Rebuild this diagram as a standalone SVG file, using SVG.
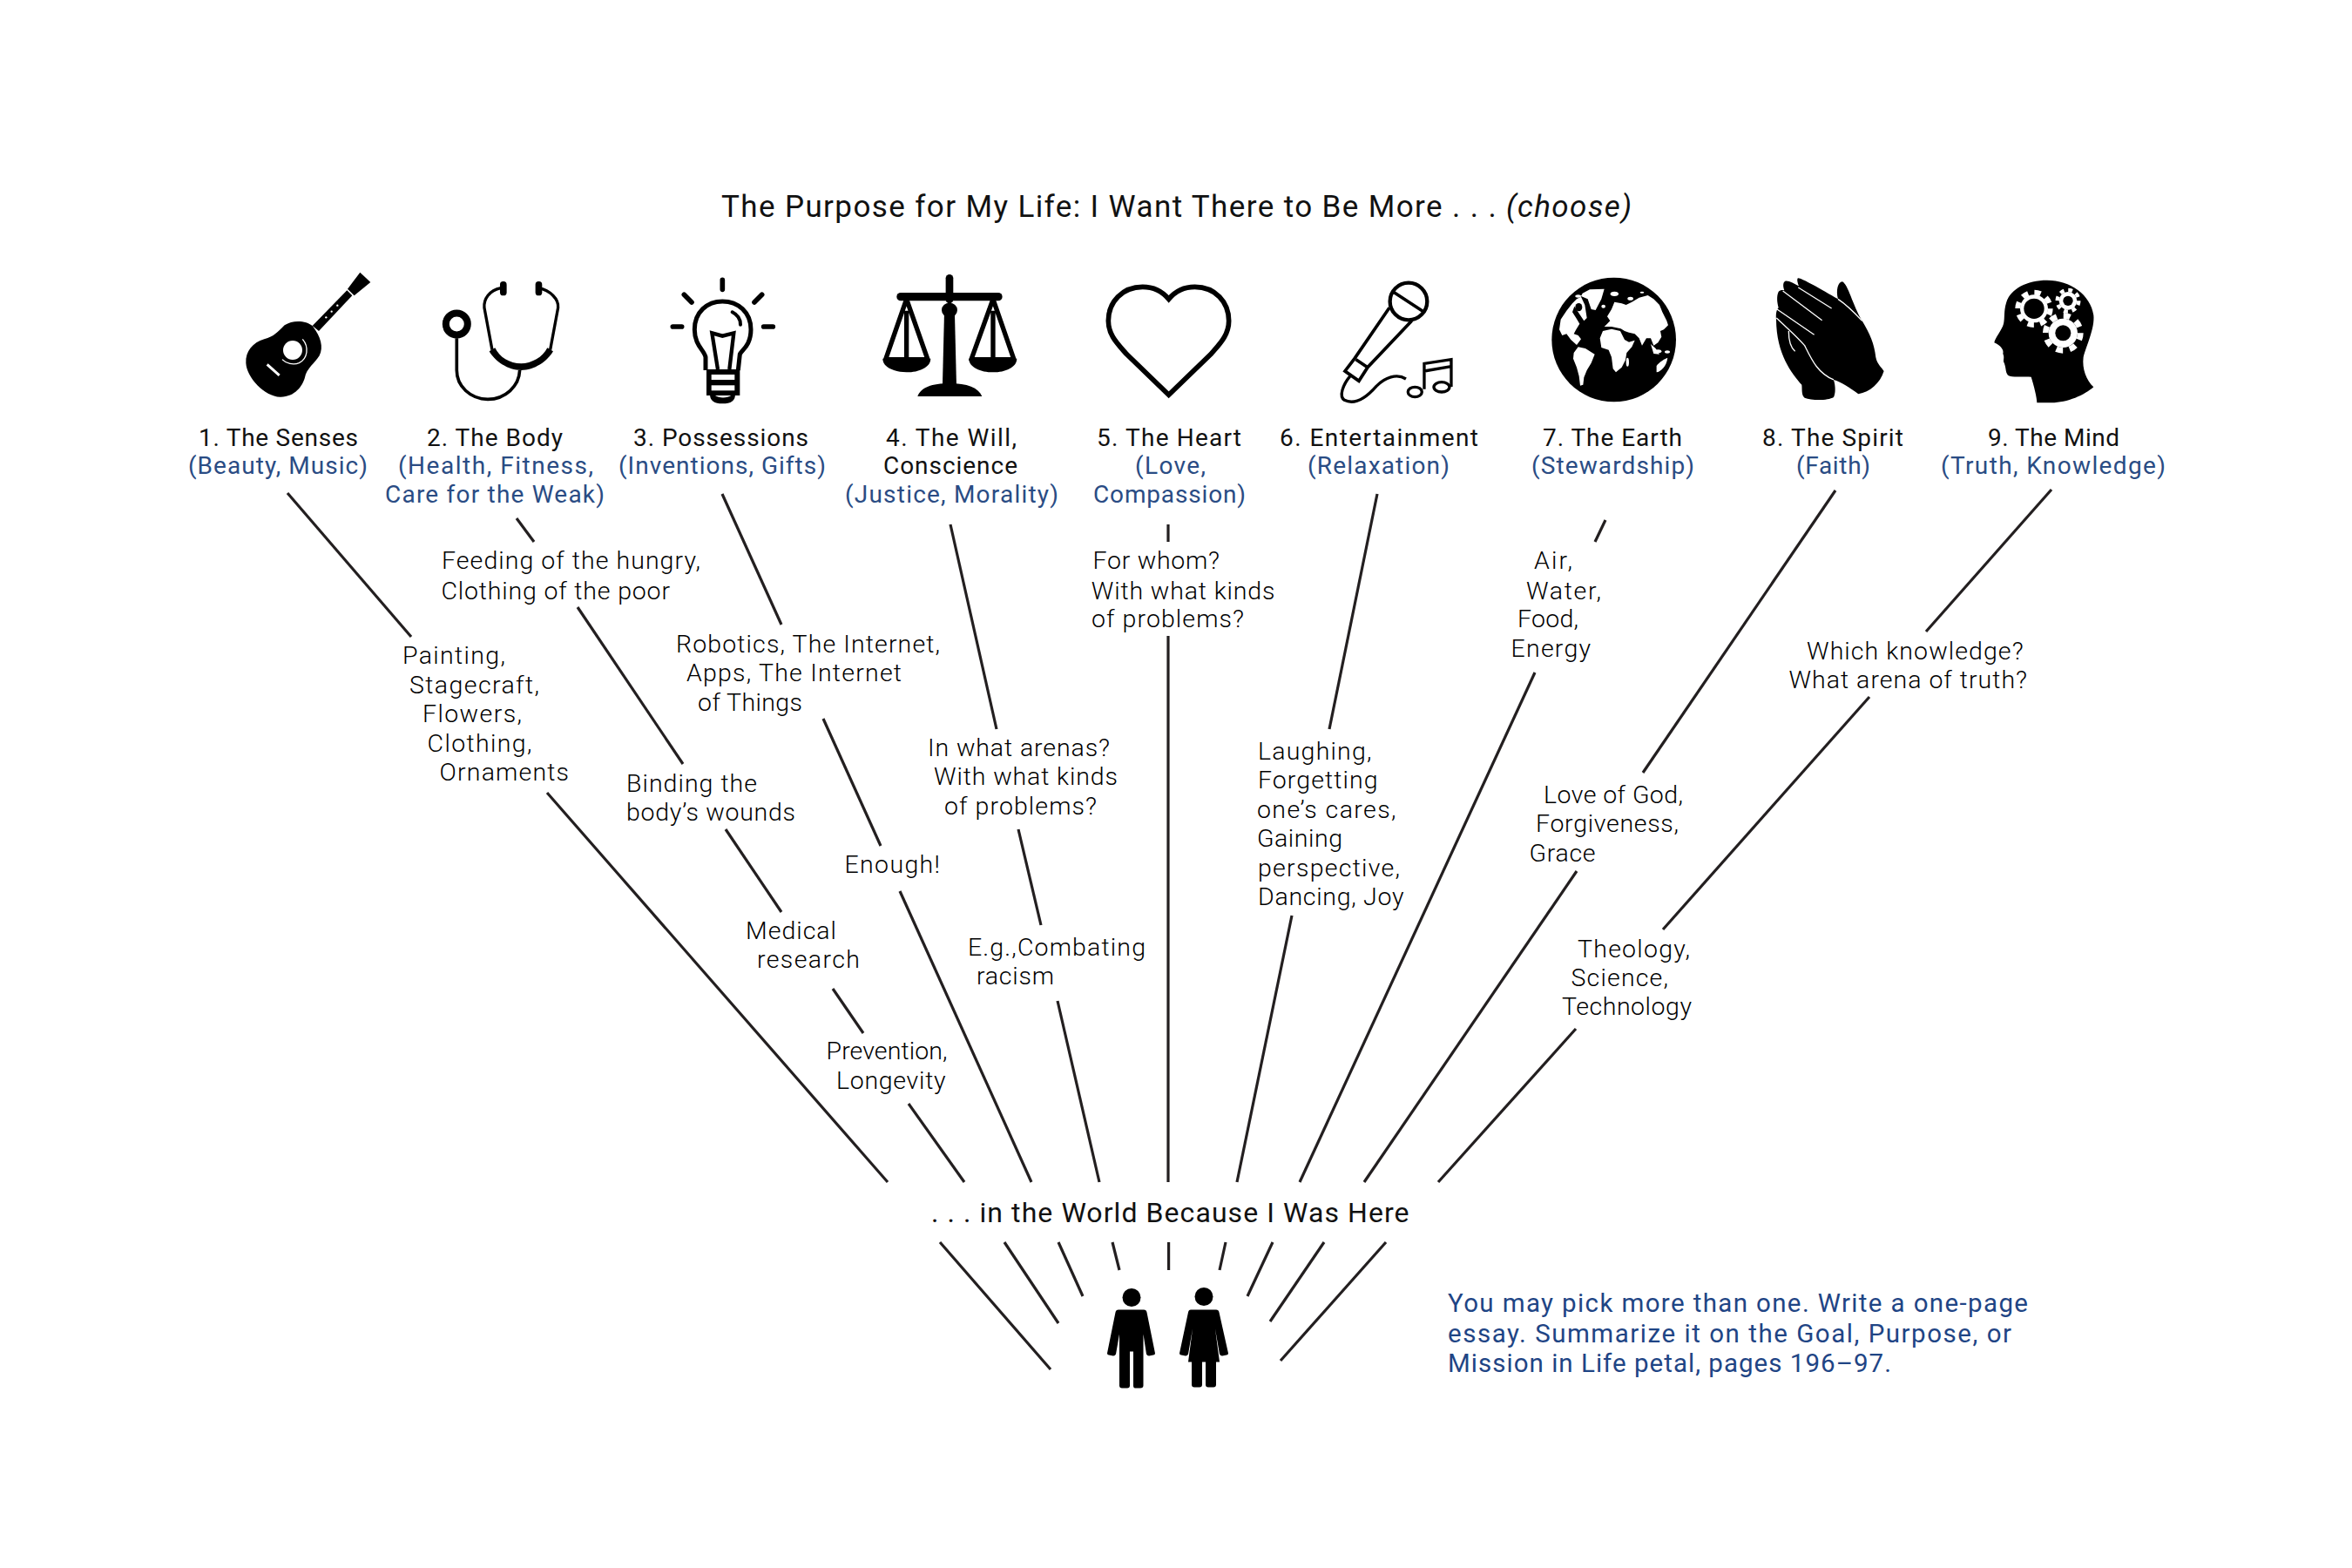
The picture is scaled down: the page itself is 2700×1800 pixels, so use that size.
<svg xmlns="http://www.w3.org/2000/svg" width="2700" height="1800" viewBox="0 0 2700 1800">
<style>
text{font-family:"Roboto","Liberation Sans",sans-serif;fill:#231f20}
.h{font-size:28px;font-weight:400;fill:#111}
.b{font-size:28px;font-weight:400;fill:#2a4c84}
.m{font-size:28.5px;font-weight:300;fill:#000}
.t{font-size:35px;font-weight:400;fill:#111}
.w{font-size:32px;font-weight:400;fill:#111}
.n{font-size:29.5px;font-weight:400;fill:#1f4585}
#connectors line{stroke:#231f20;stroke-width:3.2;fill:none}
.s{fill:none;stroke:#000}
</style>
<rect width="2700" height="1800" fill="#fff"/>
<text id="title" class="t" x="828" y="248.500" textLength="1045">The Purpose for My Life: I Want There to Be More . . . <tspan font-style="italic">(choose)</tspan></text>

<g id="connectors">
<line x1="330" y1="566" x2="472" y2="731"/><line x1="628" y1="910" x2="1019" y2="1357"/>
<line x1="593" y1="595" x2="613" y2="622"/><line x1="663" y1="697" x2="784" y2="877"/><line x1="833" y1="952" x2="897" y2="1047"/><line x1="956" y1="1135" x2="991" y2="1186"/><line x1="1043" y1="1267" x2="1107" y2="1357"/>
<line x1="829" y1="567" x2="897" y2="717"/><line x1="945" y1="825" x2="1011" y2="971"/><line x1="1033" y1="1023" x2="1184" y2="1357"/>
<line x1="1091" y1="602" x2="1144" y2="837"/><line x1="1169" y1="952" x2="1195" y2="1062"/><line x1="1214" y1="1149" x2="1262" y2="1357"/>
<line x1="1341" y1="602" x2="1341" y2="622"/><line x1="1341" y1="730" x2="1341" y2="1357"/>
<line x1="1581" y1="567" x2="1526" y2="837"/><line x1="1483" y1="1051" x2="1420" y2="1357"/>
<line x1="1843" y1="597" x2="1831" y2="622"/><line x1="1762" y1="772" x2="1492" y2="1357"/>
<line x1="2107" y1="563" x2="1886" y2="887"/><line x1="1810" y1="1000" x2="1566" y2="1357"/>
<line x1="2355" y1="562" x2="2211" y2="725"/><line x1="2146" y1="800" x2="1909" y2="1067"/><line x1="1809" y1="1181" x2="1651" y2="1357"/>
<line x1="1079" y1="1426" x2="1206" y2="1572"/><line x1="1153" y1="1426" x2="1215" y2="1519"/><line x1="1215" y1="1426" x2="1243" y2="1488"/><line x1="1277" y1="1426" x2="1285" y2="1458"/><line x1="1341.6" y1="1426" x2="1341.6" y2="1458"/><line x1="1407" y1="1426" x2="1400" y2="1458"/><line x1="1461" y1="1426" x2="1432" y2="1488"/><line x1="1520" y1="1426" x2="1458" y2="1517"/><line x1="1591" y1="1426" x2="1470" y2="1562"/>
</g>

<g id="node-senses">
<g transform="translate(260,300) scale(.3333)">
<path d="M296,222C275,205 230,200 200,220C175,245 165,258 130,268C90,280 65,310 67,350C70,400 130,465 185,467C235,468 262,430 270,400C275,370 305,350 320,325C335,295 325,260 296,222Z"/>
<polygon points="296,222 415,100 433,118 318,240"/>
<polygon points="417,95 460,38 496,72 440,118"/>
<circle cx="228" cy="306" r="33" fill="#fff"/>
<path d="M262,268C285,295 280,335 250,350C230,358 205,352 192,338" fill="none" stroke="#fff" stroke-width="4"/>
<line x1="140" y1="355" x2="182" y2="393" stroke="#fff" stroke-width="9"/>
<circle cx="343" cy="193" r="3.5" fill="#fff"/><circle cx="362" cy="173" r="3.5" fill="#fff"/><circle cx="382" cy="152" r="3.5" fill="#fff"/>
</g>
<text class="h" x="228" y="512" textLength="183">1. The Senses</text>
<text class="b" x="216" y="544" textLength="206">(Beauty, Music)</text>
</g>

<g id="node-body">
<g transform="translate(260,300) scale(.3333)">
<circle class="s" cx="793" cy="216" r="37.5" stroke-width="24"/>
<path class="s" stroke-width="11" d="M793,265V375C793,430 840,475 900,475C960,475 1008,430 1010,375"/>
<path class="s" stroke-width="10" d="M945,92C905,100 885,130 888,160L915,305M1075,92C1115,100 1145,130 1142,160L1115,305"/>
<path d="M905,310C925,345 970,375 1015,375C1060,375 1105,345 1125,310L1105,298C1090,330 1050,352 1015,352C975,352 940,330 925,298Z"/>
<rect x="942" y="69" width="23" height="49" rx="11"/><rect x="1064" y="69" width="23" height="49" rx="11"/>
</g>
<text class="h" x="490" y="512" textLength="156">2. The Body</text>
<text class="b" x="457" y="544" textLength="224">(Health, Fitness,</text>
<text class="b" x="442" y="577" textLength="252">Care for the Weak)</text>
</g>

<g id="node-possessions">
<g transform="translate(760,300) scale(.3333)">
<g class="s" stroke-width="17" stroke-linecap="round"><path d="M208,64V97M76,115L102,141M344,115L318,141M37,225H68M350,225H382"/></g>
<path class="s" stroke-width="15" d="M150,375L150,330C145,305 112,290 112,235C112,175 155,138 208,138C262,138 306,175 306,235C306,290 275,305 268,320L262,375"/>
<rect x="153" y="372" width="115" height="90"/><rect x="170" y="390" width="80" height="18" fill="#fff"/><rect x="170" y="427" width="80" height="18" fill="#fff"/>
<path d="M165,458C165,480 180,490 208,490C238,490 252,480 252,458Z"/><path d="M183,462C195,472 225,472 238,462Z" fill="#fff"/>
<path class="s" stroke-width="12" stroke-linecap="round" d="M242,175C262,185 270,200 270,218"/>
<path class="s" stroke-width="13" d="M192,372L172,247L208,257L247,247L232,372"/>
</g>
<text class="h" x="727" y="512" textLength="201">3. Possessions</text>
<text class="b" x="710" y="544" textLength="238">(Inventions, Gifts)</text>
</g>

<g id="node-will">
<g transform="translate(760,300) scale(.3333)">
<rect x="977" y="45" width="26" height="100" rx="13"/>
<ellipse cx="990" cy="168" rx="27" ry="25"/>
<polygon points="972,180 1008,180 1014,425 966,425"/>
<path d="M880,465C890,435 930,420 990,420C1050,420 1090,435 1102,465Z"/>
<rect x="808" y="108" width="364" height="28" rx="14"/>
<path class="s" stroke-width="16" stroke-linejoin="round" d="M842,130L770,338H915ZM842,170V338M1140,130L1065,338H1212ZM1140,170V338"/>
<path d="M760,335H925C925,365 885,382 842,382C800,382 760,365 760,335Z"/>
<path d="M1057,335H1222C1222,365 1182,382 1140,382C1097,382 1057,365 1057,335Z"/>
</g>
<text class="h" x="1017" y="512" textLength="150">4. The Will,</text>
<text class="h" x="1014" y="544" textLength="154">Conscience</text>
<text class="b" x="970" y="577" textLength="245">(Justice, Morality)</text>
</g>

<g id="node-heart">
<g transform="translate(1260,300) scale(.3333)">
<path class="s" stroke-width="17" d="M245,130C220,100 190,88 155,88C85,88 37,140 37,205C37,255 70,285 100,320L245,460L390,320C420,285 452,255 452,205C452,140 405,88 335,88C300,88 270,100 245,130Z"/>
</g>
<text class="h" x="1259" y="512" textLength="166">5. The Heart</text>
<text class="b" x="1303" y="544" textLength="81">(Love,</text>
<text class="b" x="1255" y="577" textLength="175">Compassion)</text>
</g>

<g id="node-entertainment">
<g transform="translate(1260,300) scale(.3333)" class="s">
<circle cx="1071" cy="138" r="64" stroke-width="13" fill="none"/>
<path stroke-width="11" d="M1018,105L1120,172M1005,160L885,335L852,378L900,412L930,365L1082,205M890,338L930,365"/>
<path stroke-width="10" d="M870,395C845,425 830,465 850,478C885,495 925,470 960,430C990,400 1030,385 1062,405"/>
<path stroke-width="10" d="M1125,440V352L1218,338V432M1125,378L1218,362"/>
<ellipse cx="1093" cy="450" rx="24" ry="17" stroke-width="10"/><ellipse cx="1185" cy="433" rx="27" ry="17" stroke-width="10"/>
</g>
<text class="h" x="1469" y="512" textLength="228">6. Entertainment</text>
<text class="b" x="1501" y="544" textLength="163">(Relaxation)</text>
</g>

<g id="node-earth">
<g transform="translate(1770,300) scale(.3333)">
<circle cx="248" cy="270" r="214"/>
<g fill="#fff">
<polygon points="140,110 165,97 215,95 205,130 185,168 170,165 158,130 135,120"/>
<polygon points="60,235 65,200 85,170 105,145 120,130 135,122 148,150 155,195 145,205 125,175 112,155 105,175 118,195 130,215 118,235 110,250 125,255 135,268 120,288 100,270 85,250 70,255"/>
<polygon points="110,315 125,295 150,300 182,320 170,350 155,375 145,400 142,425 132,428 128,395 120,365 108,335"/>
<polygon points="200,265 210,240 240,233 270,240 285,270 300,278 320,272 310,295 292,315 288,340 275,365 255,382 245,370 240,330 230,305 205,297"/>
<polygon points="235,205 225,190 240,165 250,140 275,145 290,150 310,140 335,125 365,117 385,130 405,150 415,175 430,205 435,220 420,235 408,240 412,260 400,280 385,290 375,265 360,265 345,290 335,265 320,250 300,245 285,240 272,232 240,225 215,225 225,215"/>
<polygon points="375,285 392,300 405,320 385,318"/>
<path d="M395,360C405,345 425,335 433,332C430,360 410,380 395,382Z"/>
<ellipse cx="295" cy="347" rx="5" ry="15"/><ellipse cx="250" cy="112" rx="14" ry="8"/><ellipse cx="212" cy="155" rx="7" ry="6"/><ellipse cx="305" cy="128" rx="10" ry="6"/><ellipse cx="400" cy="310" rx="12" ry="6"/><ellipse cx="432" cy="312" rx="9" ry="5"/><ellipse cx="345" cy="107" rx="7" ry="3"/><ellipse cx="125" cy="120" rx="10" ry="5"/>
</g>
<ellipse cx="127" cy="158" rx="12" ry="14"/>
</g>
<text class="h" x="1771" y="512" textLength="160">7. The Earth</text>
<text class="b" x="1758" y="544" textLength="187">(Stewardship)</text>
</g>

<g id="node-spirit">
<g transform="translate(1770,300) scale(.3333)">
<path d="M882,58C890,55 960,95 1020,130C1012,100 1020,70 1035,70C1055,80 1070,150 1103,205C1130,250 1145,285 1150,330C1155,355 1170,365 1178,378C1165,420 1130,450 1090,457C1060,435 1030,415 1005,408C1012,430 1012,455 1005,468C985,480 930,480 905,470C893,460 897,440 895,425C860,385 808,320 807,200C805,175 810,165 815,160C810,140 808,120 815,105C820,98 830,98 835,100C830,85 830,72 838,68C850,65 870,78 885,85C880,72 878,62 882,58Z"/>
<g fill="none" stroke="#fff" stroke-width="4"><path d="M883,90L998,162M830,102L965,203M810,165L938,253M808,195C850,235 880,260 905,290C930,340 950,385 1005,408M850,240C850,270 855,295 872,310M1020,130C1050,150 1080,180 1103,205"/></g>
</g>
<text class="h" x="2023" y="512" textLength="162">8. The Spirit</text>
<text class="b" x="2062" y="544" textLength="85">(Faith)</text>
</g>

<g id="node-mind">
<g transform="translate(2200,300) scale(.3333)">
<path d="M415,487C415,470 405,430 395,398C370,395 330,402 315,392C305,380 310,365 300,345C300,335 303,330 298,318C302,305 290,290 268,280C270,265 295,235 300,215C305,195 300,170 310,140C325,95 380,65 450,65C530,65 600,115 610,185C615,230 585,290 575,330C570,370 585,410 610,433C580,460 520,487 465,487Z"/>
<g fill="#fff" stroke="#fff">
<circle cx="405" cy="163" r="48" stroke="none"/><circle cx="405" cy="163" r="56" fill="none" stroke-width="18" pathLength="16" stroke-dasharray="1 1"/>
<circle cx="522" cy="136" r="31" stroke="none"/><circle cx="522" cy="136" r="37" fill="none" stroke-width="13" pathLength="16" stroke-dasharray="1 1"/>
<circle cx="505" cy="247" r="50" stroke="none"/><circle cx="505" cy="247" r="60" fill="none" stroke-width="20" pathLength="16" stroke-dasharray="1 1"/>
</g>
<circle cx="405" cy="163" r="35"/><circle cx="522" cy="136" r="17"/><circle cx="505" cy="247" r="27"/>
</g>
<text class="h" x="2282" y="512" textLength="151">9. The Mind</text>
<text class="b" x="2228" y="544" textLength="258">(Truth, Knowledge)</text>
</g>

<g id="details" transform="translate(0,-1.5)">
<text class="m" x="507" y="654.6" textLength="297">Feeding of the hungry,</text>
<text class="m" x="506.5" y="689" textLength="262.5">Clothing of the poor</text>
<text class="m" x="462" y="763.5" textLength="118">Painting,</text>
<text class="m" x="470" y="797" textLength="149">Stagecraft,</text>
<text class="m" x="485" y="830" textLength="114">Flowers,</text>
<text class="m" x="490.5" y="864" textLength="120">Clothing,</text>
<text class="m" x="504.6" y="897" textLength="148.4">Ornaments</text>
<text class="m" x="776" y="750" textLength="303">Robotics, The Internet,</text>
<text class="m" x="788" y="783" textLength="247">Apps, The Internet</text>
<text class="m" x="801" y="817" textLength="120">of Things</text>
<text class="m" x="1065" y="869" textLength="209">In what arenas?</text>
<text class="m" x="1072" y="902.5" textLength="211">With what kinds</text>
<text class="m" x="1084" y="936" textLength="175">of problems?</text>
<text class="m" x="719" y="910" textLength="150">Binding the</text>
<text class="m" x="719" y="943.5" textLength="194">body’s wounds</text>
<text class="m" x="969.5" y="1003" textLength="109.5">Enough!</text>
<text class="m" x="856" y="1079" textLength="104">Medical</text>
<text class="m" x="869" y="1112" textLength="118">research</text>
<text class="m" x="1111" y="1098" textLength="204">E.g.,Combating</text>
<text class="m" x="1121" y="1131.5" textLength="89">racism</text>
<text class="m" x="948.5" y="1217.5" textLength="139">Prevention,</text>
<text class="m" x="960" y="1251" textLength="125.6">Longevity</text>
<text class="m" x="1254.6" y="654.6" textLength="145.4">For whom?</text>
<text class="m" x="1252.7" y="689" textLength="210.8">With what kinds</text>
<text class="m" x="1253" y="721.5" textLength="175">of problems?</text>
<text class="m" x="1761" y="654.6" textLength="44">Air,</text>
<text class="m" x="1752" y="689" textLength="86">Water,</text>
<text class="m" x="1742" y="721.5" textLength="70">Food,</text>
<text class="m" x="1734.6" y="755" textLength="91.4">Energy</text>
<text class="m" x="2074" y="758" textLength="248.6">Which knowledge?</text>
<text class="m" x="2053.5" y="791.6" textLength="273.5">What arena of truth?</text>
<text class="m" x="1444" y="873" textLength="130.5">Laughing,</text>
<text class="m" x="1444" y="906.6" textLength="137.5">Forgetting</text>
<text class="m" x="1443" y="940" textLength="159.5">one’s cares,</text>
<text class="m" x="1443" y="973.5" textLength="98">Gaining</text>
<text class="m" x="1444" y="1007" textLength="163">perspective,</text>
<text class="m" x="1444" y="1040" textLength="167.5">Dancing, Joy</text>
<text class="m" x="1772" y="923" textLength="160">Love of God,</text>
<text class="m" x="1763" y="956.5" textLength="164">Forgiveness,</text>
<text class="m" x="1755.6" y="990" textLength="75.9">Grace</text>
<text class="m" x="1811" y="1100" textLength="129">Theology,</text>
<text class="m" x="1803.5" y="1133" textLength="111.5">Science,</text>
<text class="m" x="1793" y="1166.5" textLength="149">Technology</text>
</g>

<g id="node-world">
<text class="w" x="1069" y="1403" textLength="548.5">. . . in the World Because I Was Here</text>
</g>

<g id="node-people" transform="translate(0,-1.5)">
<g id="man">
<circle cx="1299" cy="1491" r="10.5"/>
<path d="M1284,1505H1313Q1316,1505 1316.500,1508L1326,1555Q1326,1557 1324,1557L1319,1558Q1317,1558 1316,1556L1312.500,1533V1592Q1312.500,1595 1309,1595H1303Q1301,1595 1301,1592V1553H1297V1592Q1297,1595 1294,1595H1288Q1285,1595 1285,1592V1533L1281,1556Q1280,1558 1278,1558L1273,1557Q1271,1557 1271,1555L1280.500,1508Q1281,1505 1284,1505Z"/>
</g>
<g id="woman">
<circle cx="1382" cy="1490" r="10.5"/>
<path d="M1367,1505H1396Q1399,1505 1399.500,1508L1410,1555Q1410,1557 1408,1557L1403,1558Q1401,1558 1400,1556L1395,1527L1400,1565H1396V1591Q1396,1594 1393,1594H1387Q1384,1594 1384,1591V1565H1380V1591Q1380,1594 1377,1594H1371Q1368,1594 1368,1591V1565H1364L1369,1527L1364,1556Q1363,1558 1361,1558L1356,1557Q1354,1557 1354,1555L1364,1508Q1364.500,1505 1367,1505Z"/>
</g>
</g>

<g id="note">
<text class="n" x="1662" y="1505.5" textLength="666">You may pick more than one. Write a one-page</text>
<text class="n" x="1662" y="1540.5" textLength="647">essay. Summarize it on the Goal, Purpose, or</text>
<text class="n" x="1662" y="1575" textLength="509">Mission in Life petal, pages 196–97.</text>
</g>
</svg>
